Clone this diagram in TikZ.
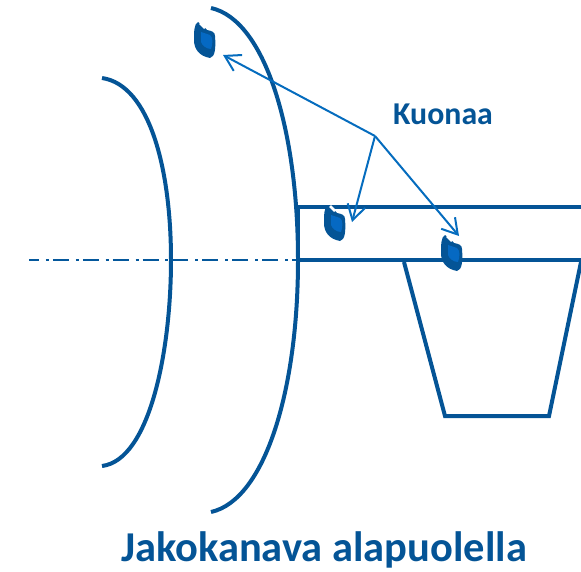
\documentclass[tikz,border=0pt]{standalone}
\usepackage{fontspec}
\setmainfont{Carlito}
\usetikzlibrary{arrows.meta,calc,positioning}
\definecolor{darkblue}{RGB}{4,84,150}
\definecolor{lineblue}{RGB}{5,108,190}
\definecolor{innerblue}{RGB}{5,105,195}
\tikzset{
  wall/.style={darkblue,line width=0.08cm},
  jet/.style={lineblue,line width=0.04cm,-{Straight Barb[length=0.3cm,width=0.36cm,line width=0.04cm]}},
  nozzle/.pic={
    \fill[darkblue] (-7,-18) .. controls (-11,-16) and (-11,-8) .. (-11,0) .. controls (-11,9) and (-6,16) .. (5,18) .. controls (10,17) and (11,8) .. (10,-4) .. controls (10,-8) and (7,-9) .. (2,-10) -- (-2,-14) -- cycle;
    \fill[innerblue] (-4,-8) -- (5,-5) .. controls (8,-3) and (8,4) .. (6,9) .. controls (1,9) and (-3,5) .. (-4,2) -- cycle;
    \draw[white,line width=0.05cm] (-5,-17) .. controls (-3,-15) .. (0,-12);
  }
}
\begin{document}
\begin{tikzpicture}[x=0.02cm,y=-0.02cm]
  \useasboundingbox (0,0) rectangle (581,571);
  % Draw the two curved walls
  \draw[wall] (102,78) .. controls (150,85) and (171,170) .. (171,260) .. controls (171,350) and (150,460) .. (102,466);
  \draw[wall] (211,8) .. controls (265,20) and (298,130) .. (298,260) .. controls (298,390) and (265,500) .. (211,512);
  % centre line
  \draw[darkblue!85!lineblue,line width=0.035cm,dash pattern=on 9.07pt off 3.97pt on 1.7pt off 2.27pt,dash phase=3.4pt] (29,260) -- (297,260);
  % Draw the channel and the trough below it
  \draw[wall] (581,207) -- (298,207) -- (298,260) -- (581,260);
  \draw[wall] (404,262) -- (445,416) -- (549,416) -- (581,262);
  % nozzles
  \pic at (205,40) {nozzle};
  \pic at (335,223) {nozzle};
  \pic at (452,253) {nozzle};
  % label the nozzles
  \node[darkblue,font=\bfseries\fontsize{18.1}{22}\selectfont] (kuonaa) at (443,114) {Kuonaa};
  \coordinate (hub) at (375,136);
  \coordinate (noza) at (223,55);
  \coordinate (nozb) at (352,222);
  \coordinate (nozc) at (459,236);
  \draw[jet] (hub) -- (noza);
  \draw[jet] (hub) -- (nozb);
  \draw[jet] (hub) -- (nozc);
  % title
  \node[darkblue,font=\bfseries\fontsize{24.2}{29}\selectfont] (title) at (324,550) {Jakokanava alapuolella};
\end{tikzpicture}
\end{document}
